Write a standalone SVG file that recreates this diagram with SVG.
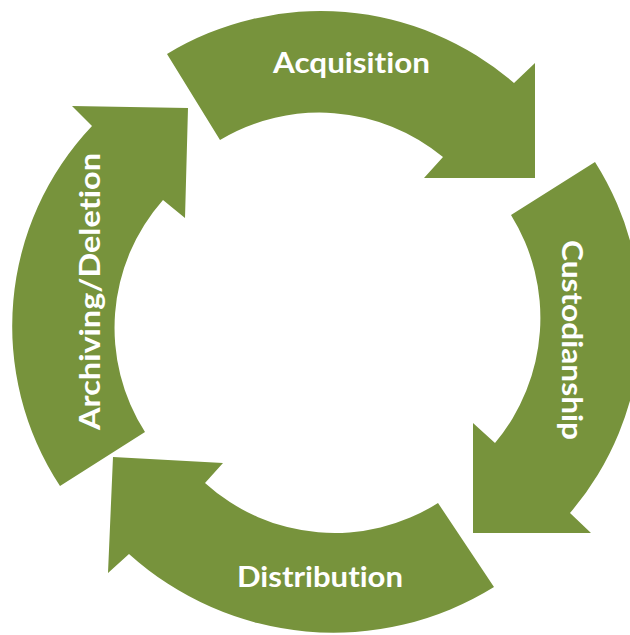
<svg xmlns="http://www.w3.org/2000/svg" width="630" height="635" viewBox="0 0 630 635">
  <style>
    .arrow { fill: #77933C; }
    .label { font-family: Lato, "Open Sans", "Liberation Sans", sans-serif; font-weight: 700; font-size: 29px; fill: #FFFFFF; text-anchor: middle; font-variant-ligatures: none; font-feature-settings: "liga" 0, "clig" 0; }
  </style>
  <rect width="630" height="635" fill="#FFFFFF"/>

  <!-- Four curved arrows forming a clockwise cycle -->
  <g id="acquisition">
    <path class="arrow" d="M167,54 A296,296 0 0 1 514,83 L535,63 L535,178 L424,178 L443,157 A194,194 0 0 0 220,140 Z"/>
    <text class="label" x="351.5" y="73" textLength="157" lengthAdjust="spacingAndGlyphs">Acquisition</text>
  </g>

  <g id="custodianship">
    <path class="arrow" d="M595,162 A296,296 0 0 1 570,513 L591,533 L473,533 L473,423 L495,443 A195,195 0 0 0 511,215 Z"/>
    <text class="label" transform="translate(562,340) rotate(90)" x="0" y="0" textLength="200" lengthAdjust="spacingAndGlyphs">Custodianship</text>
  </g>

  <g id="distribution">
    <path class="arrow" d="M494,587 A305,305 0 0 1 129,554 L108,573 L113,457 L223,463 L205,483 A193,193 0 0 0 438,503 Z"/>
    <text class="label" x="320" y="587" textLength="166" lengthAdjust="spacingAndGlyphs">Distribution</text>
  </g>

  <g id="archiving-deletion">
    <path class="arrow" d="M60,486 A291,291 0 0 1 92,126 L72,106 L188,108 L185,218 L163,200 A193,193 0 0 0 145,432 Z"/>
    <text class="label" transform="translate(100,291.5) rotate(-90)" x="0" y="0" textLength="277" lengthAdjust="spacingAndGlyphs">Archiving/Deletion</text>
  </g>

  <g id="connectors"/>
</svg>
